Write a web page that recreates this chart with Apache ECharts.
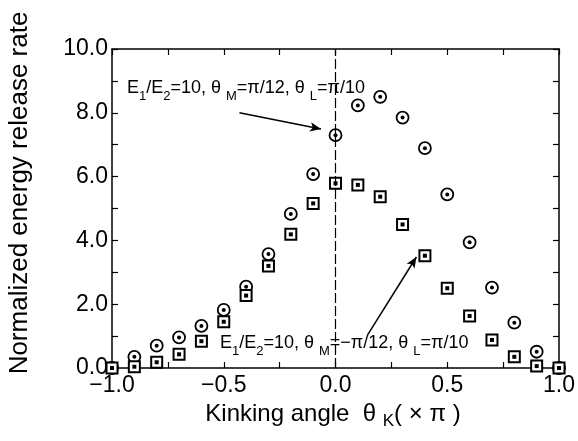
<!DOCTYPE html>
<html>
<head>
<meta charset="utf-8">
<script src="https://cdn.jsdelivr.net/npm/echarts@6/dist/echarts.min.js"></script>
<style>
  html, body { margin: 0; padding: 0; background: #fff; }
  #chart { width: 578px; height: 441px; }
</style>
</head>
<body>
<div id="chart"></div>
<script>
// kinking angle (x pi)
const angles = [-1.0, -0.9, -0.8, -0.7, -0.6, -0.5, -0.4, -0.3, -0.2, -0.1, 0.0,
  0.1, 0.2, 0.3, 0.4, 0.5, 0.6, 0.7, 0.8, 0.9, 1.0]
// theta_M = pi/12  (circles)
const rateCircle = [0, 0.35, 0.70, 0.96, 1.32, 1.82, 2.55, 3.57, 4.83, 6.08, 7.30,
  8.23, 8.50, 7.85, 6.89, 5.44, 3.94, 2.52, 1.42, 0.51, 0]
// theta_M = -pi/12  (squares)
const rateSquare = [0, 0.04, 0.18, 0.43, 0.84, 1.45, 2.27, 3.20, 4.19, 5.16, 5.79,
  5.74, 5.37, 4.50, 3.52, 2.50, 1.63, 0.88, 0.35, 0.06, 0]
const xTicks = [-1.0, -0.5, 0.0, 0.5, 1.0]
const yTicks = [0, 2, 4, 6, 8, 10]

const FONT = "'Liberation Sans', Arial, sans-serif"
const pair = (ys) => angles.map((x, i) => [x, ys[i]])
const fmt = (v) => (v < 0 ? '\u2212' : '') + Math.abs(v).toFixed(1)

// rich text for subscripts
const richSmall = {
  n: { fontSize: 18, lineHeight: 24, verticalAlign: 'top', fontFamily: FONT, color: '#000' },
  s: { fontSize: 13, lineHeight: 12, verticalAlign: 'bottom', fontFamily: FONT, color: '#000' },
}
const richBig = {
  n: { fontSize: 24, lineHeight: 28, verticalAlign: 'top', fontFamily: FONT, color: '#000' },
  s: { fontSize: 17, lineHeight: 14, verticalAlign: 'bottom', fontFamily: FONT, color: '#000' },
}

const mChart = echarts.init(document.getElementById('chart'))

const axisCommon = {
  axisLine: { show: true, onZero: false, lineStyle: { color: '#000', width: 1.5 } },
  axisTick: { show: true, inside: true, length: 6, lineStyle: { color: '#000', width: 1.2 } },
  minorTick: { show: true, splitNumber: 2, length: 6, lineStyle: { color: '#000', width: 1.2 } },
  splitLine: { show: false },
}

const options = {
  backgroundColor: '#fff',
  animation: false,
  grid: { left: 112, right: 18, top: 49, bottom: 73 },
  xAxis: [
    {
      type: 'value', min: -1, max: 1, interval: 0.5,
      ...axisCommon,
      axisLabel: {
        color: '#000', fontSize: 23, fontFamily: FONT, margin: 6,
        formatter: (v) => (xTicks.includes(v) ? fmt(v) : ''),
      },
    },
    {
      type: 'value', min: -1, max: 1, interval: 0.5, position: 'top',
      ...axisCommon,
      axisLabel: { show: false },
    },
  ],
  yAxis: [
    {
      type: 'value', min: 0, max: 10, interval: 2,
      ...axisCommon,
      axisLabel: {
        color: '#000', fontSize: 23, fontFamily: FONT, margin: 4,
        formatter: (v) => (yTicks.includes(v) ? v.toFixed(1) : ''),
      },
    },
    {
      type: 'value', min: 0, max: 10, interval: 2, position: 'right',
      ...axisCommon,
      axisLabel: { show: false },
    },
  ],
  graphic: [
    {
      // y axis title
      type: 'text', x: 20, y: 193, rotation: Math.PI / 2,
      style: {
        text: 'Normalized energy release rate', fill: '#000',
        font: '26px ' + FONT, align: 'center', verticalAlign: 'middle',
      },
    },
    {
      // x axis title
      type: 'text', x: 333, y: 402,
      style: { text: '{n|Kinking angle  θ }{s|K}{n|( × π )}', rich: richBig, align: 'center' },
    },
    {
      type: 'text', left: 127, top: 79,
      style: {
        text: '{n|E}{s|1}{n|/E}{s|2}{n|=10, θ }{s|M}{n|=π/12, θ }{s|L}{n|=π/10}',
        rich: richSmall,
      },
    },
    {
      type: 'text', left: 220, top: 334,
      style: {
        text: '{n|E}{s|1}{n|/E}{s|2}{n|=10, θ }{s|M}{n|=−π/12, θ }{s|L}{n|=π/10}',
        rich: richSmall,
      },
    },
  ],
  series: [
    {
      // arrows pointing at the two curves
      type: 'line', data: [], silent: true,
      markLine: {
        silent: true, animation: false,
        label: { show: false },
        data: [
          [{ coord: [-0.43, 8.0], symbol: 'none' }, { coord: [-0.065, 7.49], symbol: 'arrow', symbolSize: [7, 11] }],
          [{ coord: [0.143, 1.03], symbol: 'none' }, { coord: [0.362, 3.48], symbol: 'arrow', symbolSize: [7, 11] }],
        ],
        lineStyle: { color: '#000', width: 1.5, type: 'solid' },
      },
    },
    {
      // dash-dot line at 0
      type: 'line', data: [], silent: true,
      markLine: {
        silent: true, animation: false, symbol: 'none',
        label: { show: false },
        data: [{ xAxis: 0 }],
        lineStyle: { color: '#000', width: 1.2, type: [10, 3] },
      },
    },
    {
      name: 'circle', type: 'scatter', data: pair(rateCircle),
      symbol: 'circle', symbolSize: 12,
      itemStyle: { color: '#fff', borderColor: '#000', borderWidth: 1.8, opacity: 1 },
    },
    {
      name: 'square', type: 'scatter', data: pair(rateSquare),
      symbol: 'rect', symbolSize: 11,
      itemStyle: { color: '#fff', borderColor: '#000', borderWidth: 2, opacity: 1 },
    },
    {
      name: 'circle dot', type: 'scatter', data: pair(rateCircle),
      symbol: 'circle', symbolSize: 4, silent: true,
      itemStyle: { color: '#000', opacity: 1 },
    },
    {
      name: 'square dot', type: 'scatter', data: pair(rateSquare),
      symbol: 'rect', symbolSize: 4, silent: true,
      itemStyle: { color: '#000', opacity: 1 },
    },
  ],
}

mChart.setOption(options)
</script>
</body>
</html>
